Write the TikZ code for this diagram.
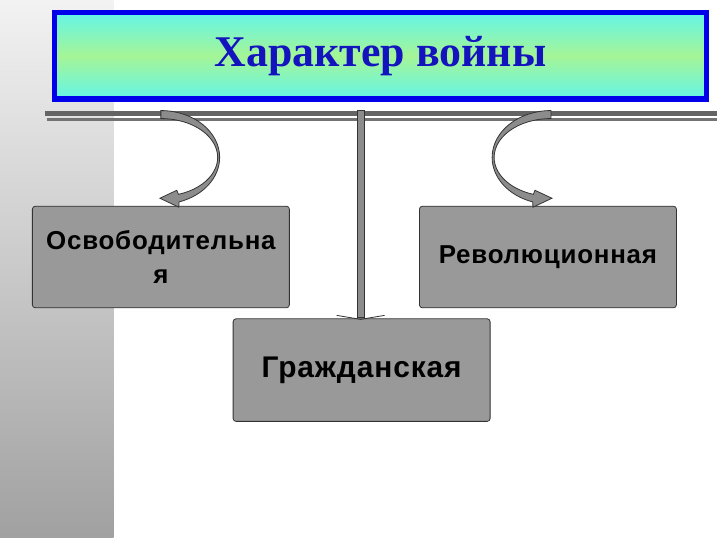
\documentclass[tikz,border=0pt]{standalone}
\usepackage{fontspec}
\setmainfont{Liberation Serif}
\setsansfont{Liberation Sans}[LetterSpace = 3]
\usepackage{tikz}
\usetikzlibrary{calc, positioning}
\usepackage{xcolor}
\definecolor{titleBlue}{RGB}{20,20,190}
\definecolor{frameBlue}{RGB}{0,0,235}
\definecolor{topCyan}{RGB}{100,245,232}
\definecolor{midGreen}{RGB}{165,245,150}
\definecolor{boxGray}{RGB}{153,153,153}
\definecolor{barGray}{RGB}{100,100,100}

\tikzset{
    titlebox/.style = {draw = frameBlue, line width = 5.5, top color = topCyan, bottom color = topCyan, middle color = midGreen, minimum width = 654.5, minimum height = 86.5, text = titleBlue, font = \fontsize{44}{46}\selectfont\bfseries},
    kindbox/.style = {draw = black!80, line width = 0.8, rounded corners = 3, fill = boxGray, minimum width = 258, minimum height = 102, align = center, font = \fontsize{26}{35}\selectfont\sffamily\bfseries},
    bendbody/.style = {draw = black!80, line width = 0.8, fill = black!45},
    bend arrow/.pic = {
        \path[bendbody] (0,0) arc[start angle = -90, end angle = 72, x radius = 59, y radius = 47]
            -- (18,97) -- (-1,88) -- (16,80) -- (17.6,84.1)
            arc[start angle = 72, end angle = -90, x radius = 57, y radius = 39] -- cycle;
    }
}

\begin{document}
\begin{tikzpicture}[x = 1pt, y = -1pt]
    % fondo
    \fill[white] (0,0) rectangle (720,540);
    \shade[top color = black!5, bottom color = black!37] (0,0) rectangle (114,540);

    % titolo
    \node[titlebox] (title) at (382,56) {Характер войны};

    % barra orizzontale
    \coordinate (barL) at (45,114);
    \coordinate (barR) at (720,114);
    \draw[barGray, line width = 5.5] (barL) -- (barR);
    \draw[black!55, line width = 2.2] ($(barL)+(2,6)$) -- ($(barR)+(0,6)$);

    % riquadri
    \node[kindbox] (lib) at (161.5,258) {Освободительна\\я};
    \node[kindbox] (rev) at (550,258) {Революционная};
    \node[kindbox, minimum height = 103, font = \fontsize{30}{32}\selectfont\sffamily\bfseries] (civ) at (363,371.5) {Гражданская};

    % frecce curve
    \pic at ($(lib.north |- barL)+(0,-3)$) {bend arrow};
    \pic[xscale = -1] at ($(rev.north |- barL)+(3,-3)$) {bend arrow};

    % asta centrale
    \draw[bendbody] ($(civ.north |- barL)+(-4.5,-3)$) rectangle ($(civ.north)+(2.5,-1)$);
    \draw[black!80, line width = 0.8] ($(civ.north)+(-25,-3)$) -- ($(civ.north)+(-1,1)$) -- ($(civ.north)+(23,-3)$);
\end{tikzpicture}
\end{document}
